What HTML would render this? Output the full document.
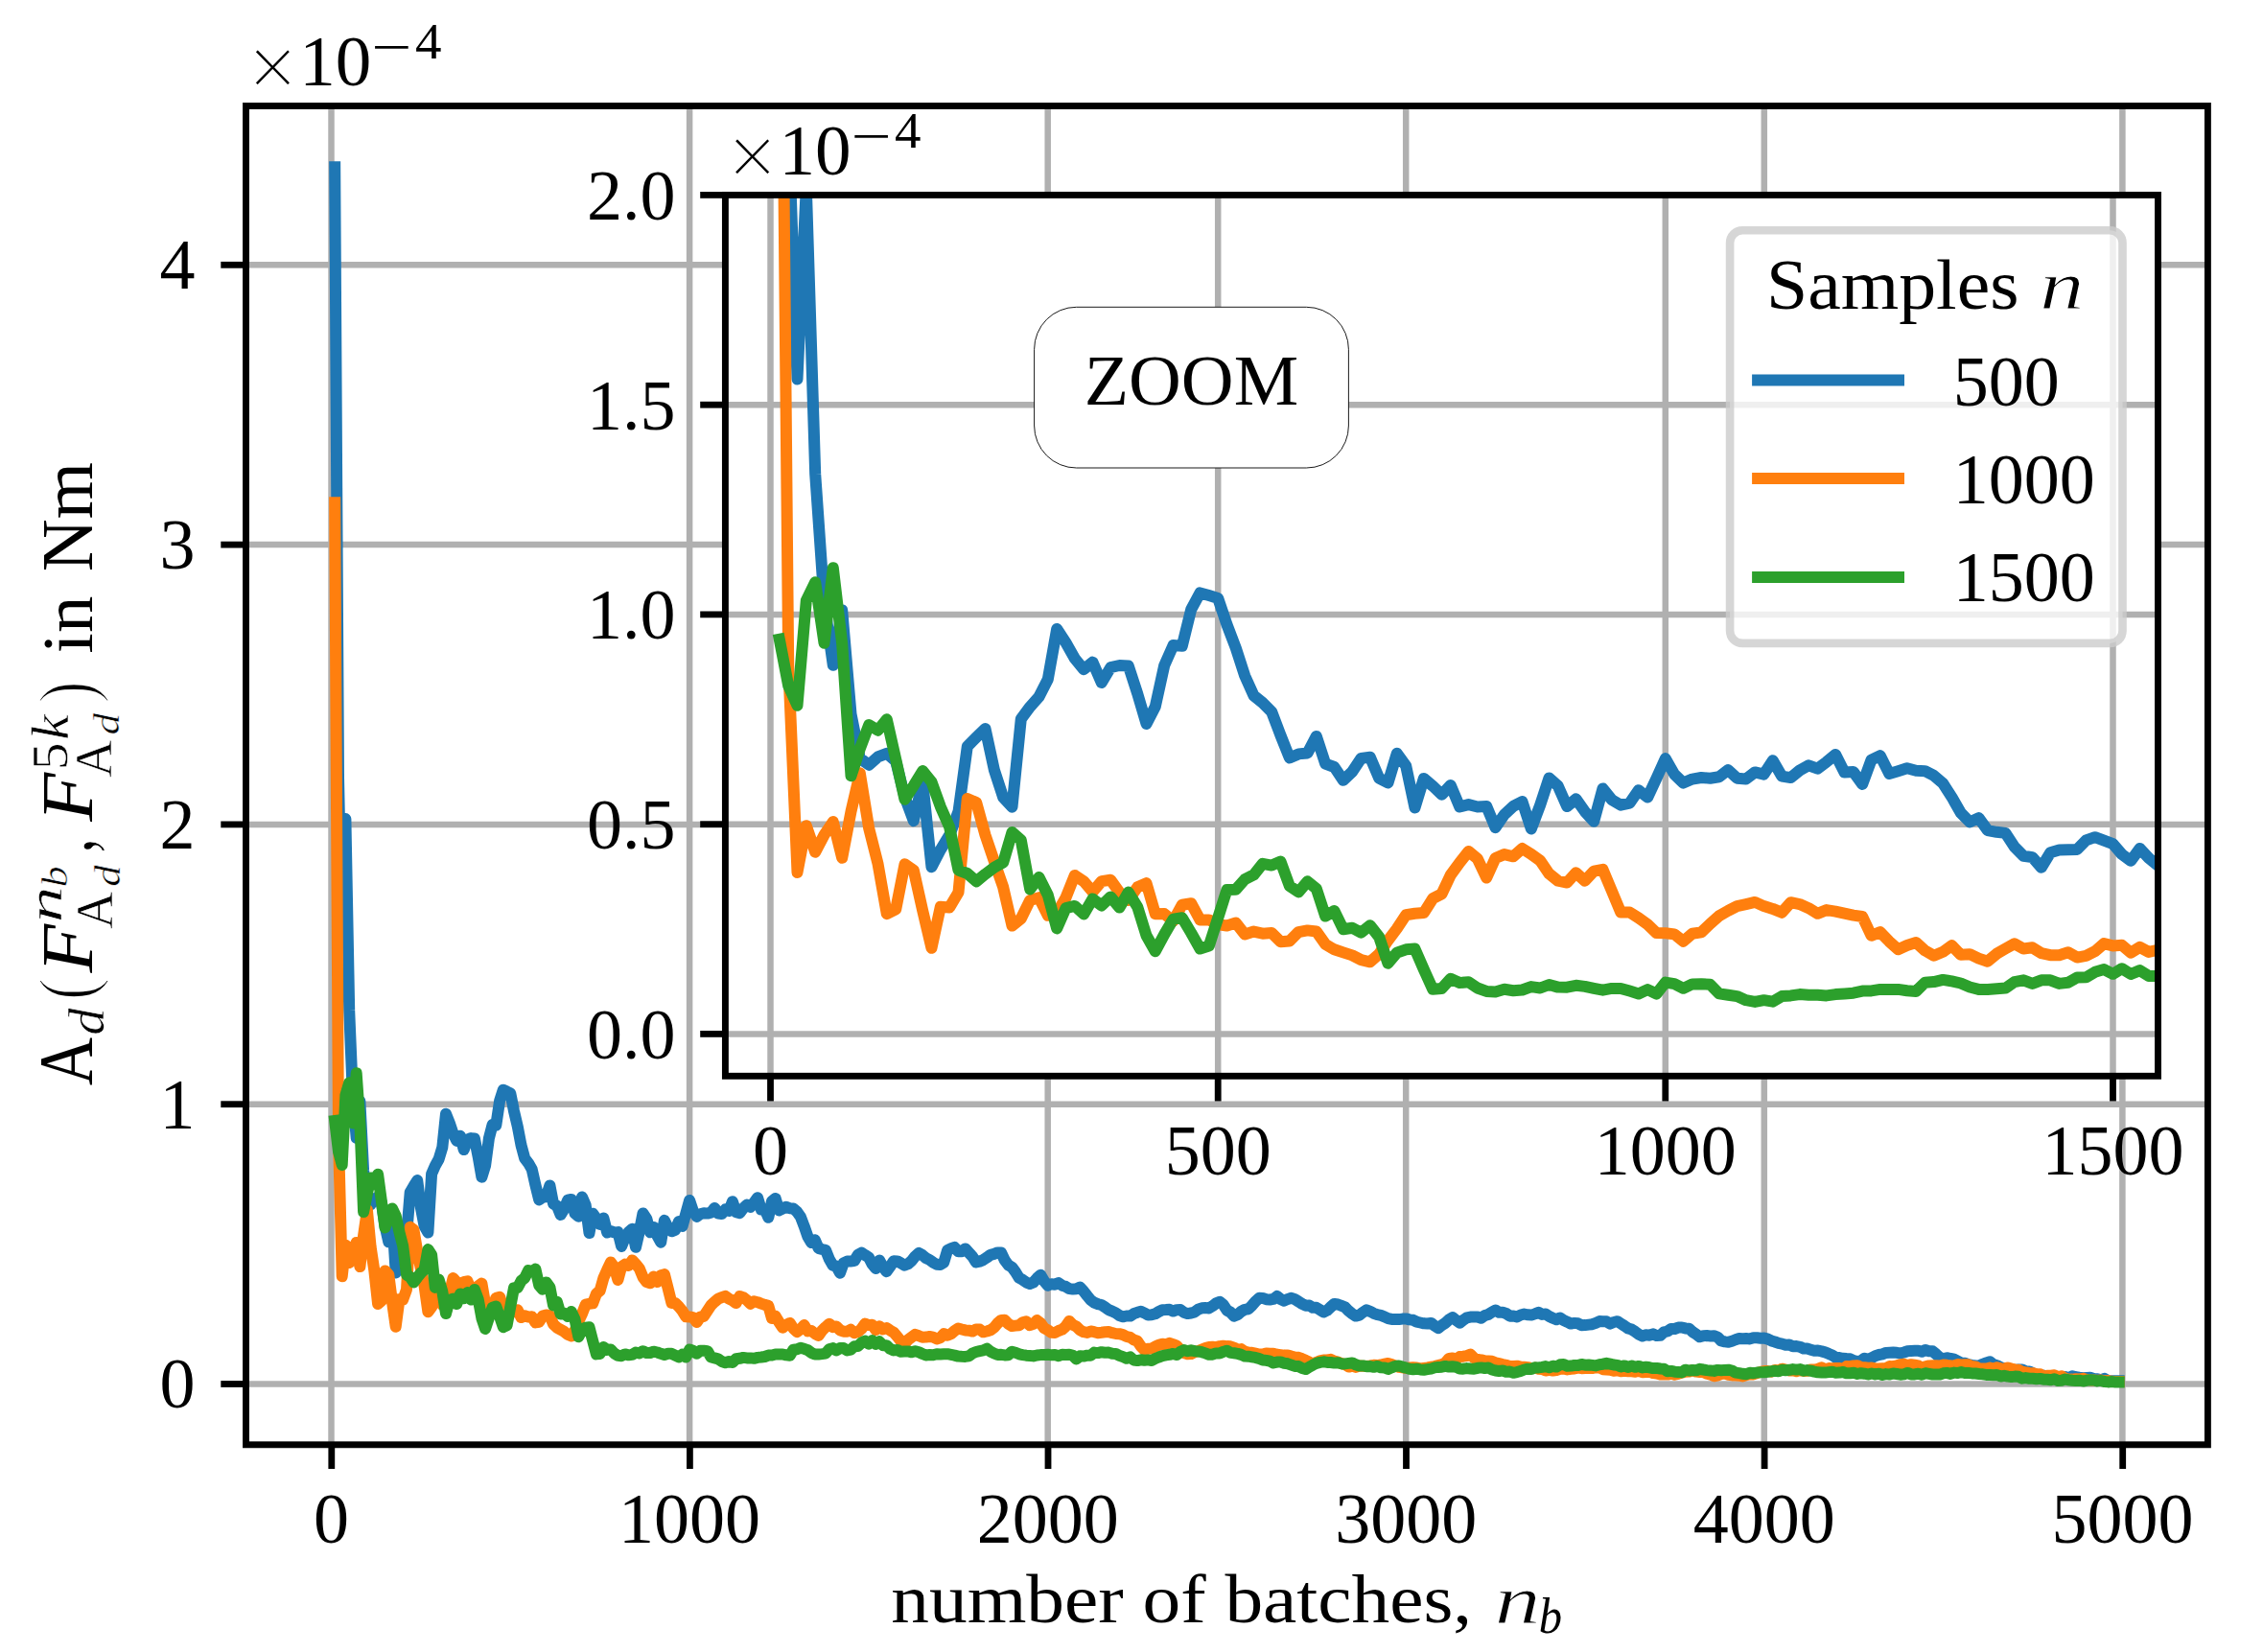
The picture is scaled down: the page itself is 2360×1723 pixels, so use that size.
<!DOCTYPE html>
<html><head><meta charset="utf-8"><title>plot</title>
<style>html,body{margin:0;padding:0;background:#fff}svg{display:block}</style></head>
<body>
<svg width="2360" height="1723" viewBox="0 0 2360 1723" font-family='"Liberation Serif", "DejaVu Serif", serif' fill="#000">
<defs>
<clipPath id="cm"><rect x="256.5" y="110.5" width="2045.9" height="1396.3"/></clipPath>
<clipPath id="ci"><rect x="756.4" y="203.4" width="1494.1" height="918.9"/></clipPath>
</defs>
<rect x="0" y="0" width="2360" height="1723" fill="#fff"/>
<g stroke="#b0b0b0" stroke-width="6.5">
<line x1="345.5" y1="110.5" x2="345.5" y2="1506.8"/>
<line x1="719.1" y1="110.5" x2="719.1" y2="1506.8"/>
<line x1="1092.7" y1="110.5" x2="1092.7" y2="1506.8"/>
<line x1="1466.2" y1="110.5" x2="1466.2" y2="1506.8"/>
<line x1="1839.8" y1="110.5" x2="1839.8" y2="1506.8"/>
<line x1="2213.4" y1="110.5" x2="2213.4" y2="1506.8"/>
<line x1="256.5" y1="1443.5" x2="2302.4" y2="1443.5"/>
<line x1="256.5" y1="1151.7" x2="2302.4" y2="1151.7"/>
<line x1="256.5" y1="859.9" x2="2302.4" y2="859.9"/>
<line x1="256.5" y1="568.1" x2="2302.4" y2="568.1"/>
<line x1="256.5" y1="276.3" x2="2302.4" y2="276.3"/>
</g>
<polyline points="349.2,174.2 353.0,810.3 356.7,988.0 360.4,854.1 364.2,1053.9 367.9,1142.9 371.7,1187.0 375.4,1148.8 379.1,1220.9 382.9,1251.8 386.6,1256.3 390.3,1250.7 394.1,1248.4 397.8,1253.8 401.5,1278.6 405.3,1295.3 409.0,1268.4 412.7,1327.4 416.5,1315.4 420.2,1305.2 424.0,1288.8 427.7,1243.5 431.4,1237.2 435.2,1231.1 438.9,1259.7 442.6,1278.9 446.4,1285.6 450.1,1224.4 453.8,1215.9 457.6,1209.0 461.3,1196.8 465.0,1161.7 468.8,1171.3 472.5,1182.2 476.3,1189.9 480.0,1184.8 483.7,1199.1 487.5,1188.6 491.2,1187.1 494.9,1187.5 498.7,1206.7 502.4,1227.7 506.1,1215.8 509.9,1187.2 513.6,1173.1 517.3,1173.6 521.1,1148.1 524.8,1136.7 528.6,1138.5 532.3,1140.4 536.0,1158.8 539.8,1175.0 543.5,1194.4 547.2,1208.1 551.0,1213.1 554.7,1219.5 558.4,1235.8 562.2,1251.4 565.9,1248.8 569.6,1248.1 573.4,1236.4 577.1,1255.6 580.9,1257.8 584.6,1267.0 588.3,1261.0 592.1,1251.7 595.8,1250.9 599.5,1265.5 603.3,1268.8 607.0,1248.4 610.7,1256.9 614.5,1286.1 618.2,1265.7 621.9,1271.0 625.7,1277.0 629.4,1270.5 633.2,1285.5 636.9,1283.9 640.6,1285.5 644.4,1285.1 648.1,1299.9 651.8,1291.0 655.6,1285.1 659.3,1281.8 663.0,1300.8 666.8,1284.3 670.5,1265.4 674.3,1271.0 678.0,1285.2 681.7,1280.0 685.5,1288.8 689.2,1295.7 692.9,1272.8 696.7,1280.6 700.4,1284.3 704.1,1282.9 707.9,1274.0 711.6,1278.9 715.3,1265.6 719.1,1251.9 722.8,1262.9 726.6,1268.9 730.3,1266.2 734.0,1265.2 737.8,1265.6 741.5,1264.7 745.2,1259.9 749.0,1265.6 752.7,1266.1 756.4,1261.4 760.2,1262.9 763.9,1253.2 767.6,1264.2 771.4,1265.2 775.1,1260.2 778.9,1256.7 782.6,1258.9 786.3,1254.3 790.1,1249.2 793.8,1261.5 797.5,1261.1 801.3,1269.8 805.0,1252.9 808.7,1249.9 812.5,1262.4 816.2,1260.6 819.9,1258.7 823.7,1260.3 827.4,1260.6 831.2,1263.8 834.9,1269.2 838.6,1278.8 842.4,1289.7 846.1,1296.1 849.8,1293.2 853.6,1301.9 857.3,1303.0 861.0,1303.8 864.8,1313.3 868.5,1319.6 872.2,1320.6 876.0,1327.7 879.7,1317.4 883.5,1315.5 887.2,1315.4 890.9,1315.1 894.7,1308.7 898.4,1306.6 902.1,1309.0 905.9,1311.3 909.6,1318.5 913.3,1323.0 917.1,1314.5 920.8,1321.1 924.5,1326.2 928.3,1321.0 932.0,1315.2 935.8,1315.4 939.5,1317.4 943.2,1319.7 947.0,1318.2 950.7,1314.9 954.4,1310.3 958.2,1306.8 961.9,1309.0 965.6,1312.1 969.4,1314.0 973.1,1316.7 976.9,1318.7 980.6,1319.0 984.3,1316.6 988.1,1303.9 991.8,1302.2 995.5,1300.9 999.3,1305.2 1003.0,1305.2 1006.7,1302.4 1010.5,1306.6 1014.2,1310.6 1017.9,1316.5 1021.7,1315.6 1025.4,1314.1 1029.2,1311.6 1032.9,1308.8 1036.6,1307.9 1040.4,1306.4 1044.1,1306.5 1047.8,1314.4 1051.6,1319.5 1055.3,1321.6 1059.0,1326.6 1062.8,1332.8 1066.5,1334.8 1070.2,1337.4 1074.0,1339.1 1077.7,1337.5 1081.5,1333.1 1085.2,1329.8 1088.9,1336.1 1092.7,1340.7 1096.4,1339.2 1100.1,1339.7 1103.9,1338.1 1107.6,1340.7 1111.3,1341.8 1115.1,1344.1 1118.8,1344.6 1122.5,1344.2 1126.3,1342.6 1130.0,1346.6 1133.8,1351.5 1137.5,1356.0 1141.2,1358.7 1145.0,1360.2 1148.7,1361.0 1152.4,1363.4 1156.2,1366.1 1159.9,1367.6 1163.6,1369.4 1167.4,1372.0 1171.1,1373.3 1174.8,1372.5 1178.6,1372.6 1182.3,1370.2 1186.1,1368.8 1189.8,1367.8 1193.5,1369.4 1197.3,1371.6 1201.0,1371.3 1204.7,1370.3 1208.5,1368.0 1212.2,1366.3 1215.9,1366.1 1219.7,1365.8 1223.4,1367.6 1227.1,1366.2 1230.9,1366.0 1234.6,1368.8 1238.4,1370.1 1242.1,1369.5 1245.8,1368.4 1249.6,1365.7 1253.3,1364.3 1257.0,1364.1 1260.8,1364.4 1264.5,1362.2 1268.2,1359.4 1272.0,1357.8 1275.7,1360.7 1279.5,1366.6 1283.2,1368.6 1286.9,1372.6 1290.7,1371.1 1294.4,1367.9 1298.1,1365.9 1301.9,1365.3 1305.6,1361.7 1309.3,1357.3 1313.1,1353.8 1316.8,1353.9 1320.5,1355.2 1324.3,1355.5 1328.0,1354.9 1331.8,1352.0 1335.5,1355.0 1339.2,1356.7 1343.0,1354.9 1346.7,1353.8 1350.4,1355.2 1354.2,1357.5 1357.9,1359.9 1361.6,1361.7 1365.4,1361.5 1369.1,1363.8 1372.8,1363.8 1376.6,1366.1 1380.3,1368.5 1384.1,1366.7 1387.8,1363.1 1391.5,1359.9 1395.3,1360.5 1399.0,1361.9 1402.7,1363.3 1406.5,1367.3 1410.2,1370.2 1413.9,1372.6 1417.7,1371.7 1421.4,1368.7 1425.1,1366.3 1428.9,1367.8 1432.6,1369.8 1436.4,1371.2 1440.1,1371.9 1443.8,1373.3 1447.6,1375.1 1451.3,1375.9 1455.0,1375.9 1458.8,1376.1 1462.5,1375.6 1466.2,1375.4 1470.0,1376.4 1473.7,1376.8 1477.4,1378.7 1481.2,1379.5 1484.9,1380.3 1488.7,1380.5 1492.4,1379.9 1496.1,1382.7 1499.9,1385.1 1503.6,1382.3 1507.3,1379.9 1511.1,1376.3 1514.8,1374.0 1518.5,1376.9 1522.3,1379.7 1526.0,1376.8 1529.7,1374.4 1533.5,1373.6 1537.2,1373.5 1541.0,1373.5 1544.7,1374.8 1548.4,1372.0 1552.2,1370.9 1555.9,1368.5 1559.6,1366.5 1563.4,1368.8 1567.1,1368.8 1570.8,1370.0 1574.6,1372.7 1578.3,1372.5 1582.0,1373.5 1585.8,1371.5 1589.5,1370.5 1593.3,1371.3 1597.0,1371.6 1600.7,1370.4 1604.5,1368.9 1608.2,1370.9 1611.9,1370.5 1615.7,1373.0 1619.4,1374.7 1623.1,1376.3 1626.9,1374.5 1630.6,1377.0 1634.4,1378.7 1638.1,1380.6 1641.8,1379.9 1645.6,1380.3 1649.3,1382.2 1653.0,1382.1 1656.8,1381.6 1660.5,1381.2 1664.2,1379.9 1668.0,1378.1 1671.7,1378.2 1675.4,1378.3 1679.2,1380.6 1682.9,1379.0 1686.7,1378.2 1690.4,1380.5 1694.1,1382.9 1697.9,1385.5 1701.6,1386.6 1705.3,1388.9 1709.1,1391.8 1712.8,1393.4 1716.5,1392.3 1720.3,1392.7 1724.0,1391.3 1727.7,1393.1 1731.5,1392.8 1735.2,1389.3 1739.0,1388.5 1742.7,1386.0 1746.4,1386.0 1750.2,1384.6 1753.9,1384.5 1757.6,1385.4 1761.4,1385.7 1765.1,1389.1 1768.8,1391.5 1772.6,1394.3 1776.3,1393.2 1780.0,1393.1 1783.8,1393.4 1787.5,1393.3 1791.3,1394.6 1795.0,1398.5 1798.7,1399.4 1802.5,1399.8 1806.2,1398.7 1809.9,1397.2 1813.7,1396.0 1817.4,1396.2 1821.1,1396.1 1824.9,1396.4 1828.6,1395.2 1832.3,1395.2 1836.1,1395.7 1839.8,1395.6 1843.6,1396.6 1847.3,1398.4 1851.0,1399.5 1854.8,1400.9 1858.5,1401.6 1862.2,1402.8 1866.0,1402.6 1869.7,1404.2 1873.4,1404.0 1877.2,1404.8 1880.9,1406.5 1884.6,1406.6 1888.4,1407.7 1892.1,1408.8 1895.9,1408.6 1899.6,1409.4 1903.3,1410.4 1907.1,1411.9 1910.8,1413.5 1914.5,1415.9 1918.3,1416.1 1922.0,1416.8 1925.7,1417.1 1929.5,1417.3 1933.2,1419.1 1937.0,1420.1 1940.7,1419.3 1944.4,1416.7 1948.2,1417.9 1951.9,1416.2 1955.6,1414.2 1959.4,1413.0 1963.1,1412.3 1966.8,1410.9 1970.6,1410.7 1974.3,1410.6 1978.0,1410.8 1981.8,1411.5 1985.5,1410.5 1989.3,1409.3 1993.0,1408.9 1996.7,1408.8 2000.5,1408.7 2004.2,1409.8 2007.9,1408.0 2011.7,1409.2 2015.4,1409.2 2019.1,1412.4 2022.9,1415.9 2026.6,1417.2 2030.3,1416.3 2034.1,1416.9 2037.8,1417.7 2041.6,1419.6 2045.3,1421.5 2049.0,1421.8 2052.8,1423.1 2056.5,1423.8 2060.2,1424.4 2064.0,1424.5 2067.7,1422.8 2071.4,1421.4 2075.2,1420.2 2078.9,1423.1 2082.6,1424.2 2086.4,1426.1 2090.1,1427.3 2093.9,1427.0 2097.6,1429.0 2101.3,1428.9 2105.1,1428.4 2108.8,1428.5 2112.5,1430.2 2116.3,1430.4 2120.0,1432.2 2123.7,1433.7 2127.5,1434.2 2131.2,1434.6 2134.9,1435.3 2138.7,1435.3 2142.4,1435.8 2146.2,1436.7 2149.9,1436.5 2153.6,1436.0 2157.4,1437.2 2161.1,1435.2 2164.8,1436.3 2168.6,1436.8 2172.3,1437.2 2176.0,1436.9 2179.8,1436.8 2183.5,1437.9 2187.2,1438.2 2191.0,1439.3 2194.7,1437.9 2198.5,1440.1 2202.2,1440.3 2205.9,1440.3 2209.7,1440.3" fill="none" stroke="#1f77b4" stroke-width="12" stroke-linejoin="round" stroke-linecap="square" clip-path="url(#cm)"/>
<polyline points="349.2,524.3 353.0,1187.3 356.7,1331.2 360.4,1298.6 364.2,1317.0 367.9,1305.1 371.7,1295.9 375.4,1321.1 379.1,1288.7 382.9,1262.0 386.6,1300.5 390.3,1325.0 394.1,1360.0 397.8,1356.8 401.5,1325.4 405.3,1329.6 409.0,1357.7 412.7,1383.7 416.5,1355.0 420.2,1355.5 424.0,1345.0 427.7,1279.8 431.4,1282.5 435.2,1305.1 438.9,1323.3 442.6,1341.4 446.4,1368.3 450.1,1363.2 453.8,1350.5 457.6,1348.7 461.3,1361.0 465.0,1359.5 468.8,1348.7 472.5,1333.1 476.3,1337.3 480.0,1344.6 483.7,1337.2 487.5,1336.3 491.2,1345.0 494.9,1350.5 498.7,1341.4 502.4,1338.6 506.1,1360.0 509.9,1359.9 513.6,1365.0 517.3,1353.7 521.1,1352.7 524.8,1364.1 528.6,1364.1 532.3,1367.3 536.0,1368.2 539.8,1366.3 543.5,1374.1 547.2,1372.3 551.0,1373.6 554.7,1373.2 558.4,1379.4 562.2,1378.8 565.9,1372.6 569.6,1371.5 573.4,1372.2 577.1,1381.1 580.9,1384.7 584.6,1386.8 588.3,1388.8 592.1,1392.0 595.8,1393.4 599.5,1387.9 603.3,1378.4 607.0,1370.2 610.7,1360.7 614.5,1359.8 618.2,1359.3 621.9,1349.3 625.7,1346.1 629.4,1332.9 633.2,1324.3 636.9,1316.5 640.6,1321.6 644.4,1334.9 648.1,1321.1 651.8,1318.6 655.6,1320.0 659.3,1314.5 663.0,1318.4 666.8,1323.0 670.5,1332.0 674.3,1337.0 678.0,1338.2 681.7,1331.4 685.5,1337.0 689.2,1330.3 692.9,1329.1 696.7,1343.9 700.4,1358.9 704.1,1358.9 707.9,1362.8 711.6,1367.3 715.3,1373.2 719.1,1373.4 722.8,1374.1 726.6,1379.0 730.3,1373.7 734.0,1372.8 737.8,1366.9 741.5,1361.4 745.2,1357.8 749.0,1354.6 752.7,1353.2 756.4,1351.8 760.2,1354.6 763.9,1356.4 767.6,1359.1 771.4,1352.0 775.1,1353.2 778.9,1356.0 782.6,1359.7 786.3,1357.2 790.1,1358.2 793.8,1359.6 797.5,1360.9 801.3,1361.9 805.0,1375.0 808.7,1372.7 812.5,1379.1 816.2,1384.7 819.9,1381.8 823.7,1379.9 827.4,1385.5 831.2,1389.0 834.9,1386.4 838.6,1382.0 842.4,1388.4 846.1,1388.0 849.8,1390.9 853.6,1393.0 857.3,1387.8 861.0,1384.1 864.8,1380.7 868.5,1384.2 872.2,1383.4 876.0,1387.3 879.7,1388.7 883.5,1388.7 887.2,1386.7 890.9,1390.3 894.7,1389.1 898.4,1386.0 902.1,1380.6 905.9,1382.1 909.6,1381.7 913.3,1387.0 917.1,1383.2 920.8,1386.5 924.5,1385.1 928.3,1387.6 932.0,1389.7 935.8,1394.1 939.5,1398.8 943.2,1401.8 947.0,1397.3 950.7,1394.6 954.4,1391.9 958.2,1393.2 961.9,1394.7 965.6,1394.6 969.4,1394.0 973.1,1394.6 976.9,1396.4 980.6,1395.3 984.3,1391.1 988.1,1392.8 991.8,1391.3 995.5,1388.0 999.3,1385.5 1003.0,1386.5 1006.7,1387.4 1010.5,1387.7 1014.2,1388.6 1017.9,1386.4 1021.7,1386.6 1025.4,1389.3 1029.2,1388.5 1032.9,1387.3 1036.6,1384.7 1040.4,1380.1 1044.1,1376.9 1047.8,1376.8 1051.6,1380.8 1055.3,1383.0 1059.0,1382.6 1062.8,1382.2 1066.5,1379.3 1070.2,1378.3 1074.0,1382.2 1077.7,1380.9 1081.5,1377.1 1085.2,1380.0 1088.9,1385.2 1092.7,1387.2 1096.4,1389.8 1100.1,1390.0 1103.9,1388.0 1107.6,1386.7 1111.3,1383.4 1115.1,1378.0 1118.8,1381.8 1122.5,1383.4 1126.3,1387.2 1130.0,1389.2 1133.8,1389.9 1137.5,1388.5 1141.2,1389.2 1145.0,1390.2 1148.7,1389.8 1152.4,1389.3 1156.2,1389.1 1159.9,1390.2 1163.6,1391.0 1167.4,1391.2 1171.1,1392.1 1174.8,1394.0 1178.6,1394.9 1182.3,1397.4 1186.1,1398.7 1189.8,1404.3 1193.5,1408.0 1197.3,1406.8 1201.0,1406.5 1204.7,1404.5 1208.5,1402.8 1212.2,1401.7 1215.9,1402.3 1219.7,1400.8 1223.4,1402.1 1227.1,1403.6 1230.9,1407.8 1234.6,1411.1 1238.4,1412.3 1242.1,1412.1 1245.8,1410.2 1249.6,1409.0 1253.3,1407.5 1257.0,1406.0 1260.8,1404.9 1264.5,1404.7 1268.2,1405.1 1272.0,1404.2 1275.7,1403.7 1279.5,1404.1 1283.2,1404.3 1286.9,1405.6 1290.7,1407.6 1294.4,1407.1 1298.1,1409.7 1301.9,1410.6 1305.6,1410.8 1309.3,1411.6 1313.1,1412.5 1316.8,1412.5 1320.5,1411.4 1324.3,1411.7 1328.0,1411.7 1331.8,1412.7 1335.5,1413.1 1339.2,1413.6 1343.0,1413.5 1346.7,1414.6 1350.4,1415.5 1354.2,1415.8 1357.9,1417.2 1361.6,1418.8 1365.4,1420.7 1369.1,1422.2 1372.8,1421.0 1376.6,1419.4 1380.3,1418.5 1384.1,1418.5 1387.8,1417.8 1391.5,1419.6 1395.3,1420.6 1399.0,1422.2 1402.7,1423.1 1406.5,1425.6 1410.2,1424.6 1413.9,1425.9 1417.7,1424.6 1421.4,1424.7 1425.1,1425.0 1428.9,1424.5 1432.6,1423.8 1436.4,1424.1 1440.1,1423.5 1443.8,1422.7 1447.6,1422.0 1451.3,1423.0 1455.0,1424.5 1458.8,1425.8 1462.5,1426.3 1466.2,1426.9 1470.0,1426.6 1473.7,1426.3 1477.4,1426.4 1481.2,1427.5 1484.9,1426.9 1488.7,1426.4 1492.4,1425.7 1496.1,1425.1 1499.9,1424.0 1503.6,1423.1 1507.3,1421.4 1511.1,1416.9 1514.8,1416.4 1518.5,1417.8 1522.3,1415.0 1526.0,1414.7 1529.7,1414.1 1533.5,1412.6 1537.2,1416.4 1541.0,1417.9 1544.7,1418.4 1548.4,1419.4 1552.2,1419.5 1555.9,1419.8 1559.6,1421.3 1563.4,1422.1 1567.1,1423.0 1570.8,1423.8 1574.6,1424.9 1578.3,1424.9 1582.0,1424.7 1585.8,1425.6 1589.5,1425.8 1593.3,1426.2 1597.0,1427.1 1600.7,1426.6 1604.5,1427.7 1608.2,1428.0 1611.9,1429.5 1615.7,1428.9 1619.4,1429.6 1623.1,1429.1 1626.9,1427.9 1630.6,1427.5 1634.4,1428.4 1638.1,1427.8 1641.8,1427.5 1645.6,1426.6 1649.3,1427.2 1653.0,1426.9 1656.8,1427.0 1660.5,1427.0 1664.2,1426.4 1668.0,1426.4 1671.7,1428.2 1675.4,1428.5 1679.2,1428.7 1682.9,1429.7 1686.7,1429.3 1690.4,1430.3 1694.1,1429.8 1697.9,1430.2 1701.6,1430.3 1705.3,1430.7 1709.1,1429.7 1712.8,1431.2 1716.5,1430.9 1720.3,1430.7 1724.0,1432.1 1727.7,1432.5 1731.5,1433.6 1735.2,1433.5 1739.0,1433.6 1742.7,1432.6 1746.4,1433.7 1750.2,1432.8 1753.9,1431.6 1757.6,1430.7 1761.4,1430.6 1765.1,1429.1 1768.8,1430.6 1772.6,1430.9 1776.3,1431.1 1780.0,1432.7 1783.8,1433.6 1787.5,1435.2 1791.3,1434.6 1795.0,1433.0 1798.7,1432.6 1802.5,1433.9 1806.2,1434.4 1809.9,1434.5 1813.7,1434.7 1817.4,1435.5 1821.1,1434.1 1824.9,1433.4 1828.6,1433.4 1832.3,1432.1 1836.1,1430.9 1839.8,1430.1 1843.6,1430.1 1847.3,1430.7 1851.0,1428.9 1854.8,1429.6 1858.5,1427.7 1862.2,1428.5 1866.0,1429.5 1869.7,1429.2 1873.4,1430.2 1877.2,1429.1 1880.9,1429.9 1884.6,1429.8 1888.4,1428.4 1892.1,1428.6 1895.9,1427.8 1899.6,1426.3 1903.3,1428.3 1907.1,1427.1 1910.8,1427.2 1914.5,1427.0 1918.3,1426.9 1922.0,1428.1 1925.7,1425.1 1929.5,1425.2 1933.2,1424.4 1937.0,1424.2 1940.7,1425.9 1944.4,1426.2 1948.2,1426.7 1951.9,1426.6 1955.6,1427.4 1959.4,1427.5 1963.1,1427.2 1966.8,1427.0 1970.6,1425.1 1974.3,1425.2 1978.0,1424.3 1981.8,1423.2 1985.5,1422.8 1989.3,1423.9 1993.0,1423.2 1996.7,1423.7 2000.5,1424.4 2004.2,1427.0 2007.9,1425.3 2011.7,1424.4 2015.4,1424.3 2019.1,1424.3 2022.9,1424.5 2026.6,1423.5 2030.3,1423.8 2034.1,1424.5 2037.8,1424.5 2041.6,1423.1 2045.3,1423.4 2049.0,1423.3 2052.8,1423.3 2056.5,1425.1 2060.2,1425.4 2064.0,1427.3 2067.7,1427.4 2071.4,1427.5 2075.2,1426.6 2078.9,1427.4 2082.6,1426.2 2086.4,1427.3 2090.1,1427.9 2093.9,1426.5 2097.6,1427.6 2101.3,1428.4 2105.1,1428.7 2108.8,1430.7 2112.5,1431.3 2116.3,1432.2 2120.0,1432.2 2123.7,1433.0 2127.5,1433.2 2131.2,1435.7 2134.9,1434.8 2138.7,1434.7 2142.4,1434.3 2146.2,1436.2 2149.9,1435.2 2153.6,1437.8 2157.4,1438.7 2161.1,1438.6 2164.8,1438.2 2168.6,1438.5 2172.3,1437.8 2176.0,1438.9 2179.8,1439.4 2183.5,1439.4 2187.2,1440.0 2191.0,1439.5 2194.7,1440.4 2198.5,1440.0 2202.2,1440.8 2205.9,1441.0 2209.7,1441.0" fill="none" stroke="#ff7f0e" stroke-width="12" stroke-linejoin="round" stroke-linecap="square" clip-path="url(#cm)"/>
<polyline points="349.2,1168.9 353.0,1201.3 356.7,1215.0 360.4,1142.1 364.2,1129.2 367.9,1171.5 371.7,1119.3 375.4,1172.1 379.1,1264.0 382.9,1245.1 386.6,1228.4 390.3,1232.2 394.1,1224.7 397.8,1252.4 401.5,1280.4 405.3,1270.8 409.0,1260.5 412.7,1268.1 416.5,1285.3 420.2,1299.6 424.0,1329.6 427.7,1331.9 431.4,1337.4 435.2,1332.3 438.9,1327.7 442.6,1324.2 446.4,1303.1 450.1,1308.7 453.8,1342.9 457.6,1334.5 461.3,1346.9 465.0,1370.1 468.8,1355.9 472.5,1354.5 476.3,1360.1 480.0,1349.5 483.7,1354.2 487.5,1348.1 491.2,1355.6 494.9,1344.9 498.7,1355.0 502.4,1375.0 506.1,1386.0 509.9,1374.3 513.6,1363.7 517.3,1362.6 521.1,1373.2 524.8,1384.2 528.6,1382.3 532.3,1362.7 536.0,1343.2 539.8,1343.0 543.5,1335.9 547.2,1332.8 551.0,1325.1 554.7,1326.2 558.4,1323.6 562.2,1340.5 565.9,1344.8 569.6,1337.4 573.4,1342.5 577.1,1361.6 580.9,1357.8 584.6,1370.6 588.3,1369.6 592.1,1373.0 595.8,1368.0 599.5,1376.1 603.3,1394.3 607.0,1387.0 610.7,1384.7 614.5,1384.3 618.2,1398.5 621.9,1412.4 625.7,1412.0 629.4,1405.1 633.2,1407.9 636.9,1407.4 640.6,1411.5 644.4,1413.8 648.1,1414.2 651.8,1412.4 655.6,1413.3 659.3,1412.9 663.0,1410.6 666.8,1411.5 670.5,1409.2 674.3,1411.0 678.0,1411.0 681.7,1409.7 685.5,1410.5 689.2,1411.8 692.9,1413.0 696.7,1411.8 700.4,1411.8 704.1,1413.6 707.9,1415.5 711.6,1412.6 715.3,1415.5 719.1,1407.6 722.8,1408.7 726.6,1411.7 730.3,1408.8 734.0,1408.7 737.8,1409.1 741.5,1415.5 745.2,1416.4 749.0,1417.3 752.7,1420.0 756.4,1421.2 760.2,1420.0 763.9,1421.0 767.6,1417.3 771.4,1416.8 775.1,1415.9 778.9,1416.4 782.6,1416.4 786.3,1416.8 790.1,1415.9 793.8,1415.5 797.5,1415.0 801.3,1413.6 805.0,1413.5 808.7,1412.5 812.5,1412.5 816.2,1412.5 819.9,1413.4 823.7,1413.8 827.4,1407.7 831.2,1407.3 834.9,1405.8 838.6,1406.8 842.4,1408.2 846.1,1410.9 849.8,1412.5 853.6,1412.5 857.3,1412.1 861.0,1411.6 864.8,1407.3 868.5,1406.1 872.2,1408.5 876.0,1406.1 879.7,1406.1 883.5,1408.5 887.2,1407.7 890.9,1404.3 894.7,1404.1 898.4,1400.4 902.1,1398.6 905.9,1401.7 909.6,1398.0 913.3,1401.9 917.1,1399.3 920.8,1403.2 924.5,1403.2 928.3,1406.8 932.0,1408.4 935.8,1408.0 939.5,1409.8 943.2,1409.6 947.0,1409.4 950.7,1410.3 954.4,1409.2 958.2,1410.3 961.9,1412.0 965.6,1413.4 969.4,1413.1 973.1,1413.3 976.9,1412.3 980.6,1412.5 984.3,1412.3 988.1,1412.2 991.8,1412.9 995.5,1413.6 999.3,1414.6 1003.0,1414.8 1006.7,1414.9 1010.5,1414.4 1014.2,1411.5 1017.9,1410.0 1021.7,1409.1 1025.4,1408.4 1029.2,1406.6 1032.9,1409.6 1036.6,1411.5 1040.4,1413.0 1044.1,1412.8 1047.8,1413.4 1051.6,1413.2 1055.3,1409.7 1059.0,1410.7 1062.8,1412.3 1066.5,1413.1 1070.2,1413.7 1074.0,1414.0 1077.7,1414.4 1081.5,1413.5 1085.2,1413.1 1088.9,1412.9 1092.7,1412.7 1096.4,1413.3 1100.1,1413.1 1103.9,1414.2 1107.6,1412.7 1111.3,1413.0 1115.1,1412.7 1118.8,1413.8 1122.5,1417.5 1126.3,1414.3 1130.0,1414.6 1133.8,1413.7 1137.5,1413.7 1141.2,1410.6 1145.0,1411.1 1148.7,1410.2 1152.4,1410.7 1156.2,1410.6 1159.9,1411.8 1163.6,1412.0 1167.4,1413.8 1171.1,1415.1 1174.8,1416.8 1178.6,1415.4 1182.3,1418.5 1186.1,1419.1 1189.8,1418.3 1193.5,1418.8 1197.3,1418.4 1201.0,1419.0 1204.7,1417.0 1208.5,1415.5 1212.2,1414.2 1215.9,1413.4 1219.7,1412.8 1223.4,1411.9 1227.1,1413.0 1230.9,1409.9 1234.6,1408.1 1238.4,1409.2 1242.1,1408.3 1245.8,1409.2 1249.6,1409.5 1253.3,1410.2 1257.0,1411.4 1260.8,1412.8 1264.5,1412.7 1268.2,1411.4 1272.0,1411.4 1275.7,1409.9 1279.5,1408.7 1283.2,1410.9 1286.9,1411.3 1290.7,1411.9 1294.4,1412.9 1298.1,1414.6 1301.9,1414.7 1305.6,1415.3 1309.3,1415.9 1313.1,1417.0 1316.8,1418.5 1320.5,1418.9 1324.3,1419.7 1328.0,1421.5 1331.8,1420.6 1335.5,1420.5 1339.2,1421.7 1343.0,1422.3 1346.7,1423.6 1350.4,1424.9 1354.2,1425.1 1357.9,1427.0 1361.6,1428.1 1365.4,1425.7 1369.1,1423.7 1372.8,1421.9 1376.6,1420.9 1380.3,1420.3 1384.1,1420.9 1387.8,1421.0 1391.5,1421.6 1395.3,1421.2 1399.0,1422.4 1402.7,1422.4 1406.5,1421.9 1410.2,1421.4 1413.9,1423.3 1417.7,1424.6 1421.4,1424.4 1425.1,1425.2 1428.9,1425.1 1432.6,1425.8 1436.4,1424.9 1440.1,1426.3 1443.8,1426.4 1447.6,1427.9 1451.3,1426.3 1455.0,1424.9 1458.8,1424.5 1462.5,1425.6 1466.2,1426.6 1470.0,1427.8 1473.7,1428.3 1477.4,1427.8 1481.2,1428.4 1484.9,1428.7 1488.7,1428.1 1492.4,1427.6 1496.1,1426.4 1499.9,1425.9 1503.6,1425.7 1507.3,1424.9 1511.1,1425.6 1514.8,1425.3 1518.5,1425.7 1522.3,1427.4 1526.0,1427.7 1529.7,1427.1 1533.5,1427.5 1537.2,1427.7 1541.0,1426.8 1544.7,1426.4 1548.4,1427.0 1552.2,1426.5 1555.9,1428.5 1559.6,1429.5 1563.4,1430.0 1567.1,1429.4 1570.8,1430.8 1574.6,1430.6 1578.3,1431.8 1582.0,1431.1 1585.8,1430.0 1589.5,1428.5 1593.3,1427.7 1597.0,1427.9 1600.7,1426.3 1604.5,1426.4 1608.2,1425.8 1611.9,1425.1 1615.7,1426.3 1619.4,1424.7 1623.1,1425.6 1626.9,1423.3 1630.6,1423.1 1634.4,1424.8 1638.1,1424.6 1641.8,1424.0 1645.6,1424.1 1649.3,1423.0 1653.0,1423.7 1656.8,1423.5 1660.5,1423.9 1664.2,1424.4 1668.0,1423.2 1671.7,1422.7 1675.4,1421.8 1679.2,1422.6 1682.9,1423.5 1686.7,1423.9 1690.4,1425.4 1694.1,1424.4 1697.9,1426.0 1701.6,1424.5 1705.3,1425.8 1709.1,1424.9 1712.8,1426.4 1716.5,1425.7 1720.3,1426.3 1724.0,1427.1 1727.7,1426.9 1731.5,1427.5 1735.2,1427.7 1739.0,1430.3 1742.7,1429.9 1746.4,1430.7 1750.2,1430.9 1753.9,1431.4 1757.6,1428.7 1761.4,1429.5 1765.1,1429.0 1768.8,1429.3 1772.6,1427.8 1776.3,1428.5 1780.0,1429.1 1783.8,1429.5 1787.5,1429.9 1791.3,1428.9 1795.0,1429.3 1798.7,1428.9 1802.5,1428.7 1806.2,1429.5 1809.9,1431.6 1813.7,1432.1 1817.4,1432.8 1821.1,1433.3 1824.9,1431.7 1828.6,1432.2 1832.3,1431.6 1836.1,1431.3 1839.8,1431.2 1843.6,1430.7 1847.3,1430.3 1851.0,1429.8 1854.8,1430.3 1858.5,1428.7 1862.2,1429.2 1866.0,1428.8 1869.7,1428.1 1873.4,1428.6 1877.2,1428.1 1880.9,1429.7 1884.6,1429.1 1888.4,1429.7 1892.1,1430.6 1895.9,1431.3 1899.6,1431.5 1903.3,1431.6 1907.1,1431.1 1910.8,1430.7 1914.5,1431.7 1918.3,1431.6 1922.0,1431.0 1925.7,1432.3 1929.5,1432.2 1933.2,1431.8 1937.0,1432.9 1940.7,1432.2 1944.4,1432.7 1948.2,1433.5 1951.9,1432.5 1955.6,1433.4 1959.4,1432.8 1963.1,1434.0 1966.8,1433.1 1970.6,1433.5 1974.3,1432.5 1978.0,1433.0 1981.8,1433.7 1985.5,1433.3 1989.3,1431.9 1993.0,1433.4 1996.7,1433.4 2000.5,1432.7 2004.2,1433.7 2007.9,1432.3 2011.7,1432.9 2015.4,1433.5 2019.1,1433.6 2022.9,1433.6 2026.6,1432.3 2030.3,1431.9 2034.1,1432.9 2037.8,1431.6 2041.6,1432.0 2045.3,1431.1 2049.0,1432.0 2052.8,1432.0 2056.5,1432.4 2060.2,1432.5 2064.0,1433.0 2067.7,1433.3 2071.4,1433.9 2075.2,1434.0 2078.9,1434.3 2082.6,1434.0 2086.4,1435.5 2090.1,1434.8 2093.9,1435.6 2097.6,1436.1 2101.3,1435.6 2105.1,1435.8 2108.8,1437.7 2112.5,1437.1 2116.3,1437.7 2120.0,1437.8 2123.7,1438.3 2127.5,1437.9 2131.2,1438.7 2134.9,1438.8 2138.7,1439.3 2142.4,1438.2 2146.2,1439.9 2149.9,1439.7 2153.6,1438.6 2157.4,1439.2 2161.1,1439.7 2164.8,1440.0 2168.6,1439.7 2172.3,1440.5 2176.0,1439.8 2179.8,1439.3 2183.5,1439.5 2187.2,1440.4 2191.0,1439.9 2194.7,1441.0 2198.5,1441.4 2202.2,1441.1 2205.9,1441.4 2209.7,1441.4" fill="none" stroke="#2ca02c" stroke-width="12" stroke-linejoin="round" stroke-linecap="square" clip-path="url(#cm)"/>
<g stroke="#000" stroke-width="6.8">
<line x1="345.8" y1="1506.8" x2="345.8" y2="1532.0"/>
<line x1="719.4" y1="1506.8" x2="719.4" y2="1532.0"/>
<line x1="1093.0" y1="1506.8" x2="1093.0" y2="1532.0"/>
<line x1="1466.5" y1="1506.8" x2="1466.5" y2="1532.0"/>
<line x1="1840.1" y1="1506.8" x2="1840.1" y2="1532.0"/>
<line x1="2213.7" y1="1506.8" x2="2213.7" y2="1532.0"/>
<line x1="256.5" y1="1443.5" x2="230.3" y2="1443.5"/>
<line x1="256.5" y1="1151.7" x2="230.3" y2="1151.7"/>
<line x1="256.5" y1="859.9" x2="230.3" y2="859.9"/>
<line x1="256.5" y1="568.1" x2="230.3" y2="568.1"/>
<line x1="256.5" y1="276.3" x2="230.3" y2="276.3"/>
</g>
<rect x="256.5" y="110.5" width="2045.9" height="1396.3" fill="none" stroke="#000" stroke-width="6.9"/>
<rect x="756.4" y="203.4" width="1494.1" height="918.9" fill="#fff"/>
<g stroke="#b0b0b0" stroke-width="6.5">
<line x1="803.5" y1="203.4" x2="803.5" y2="1122.3"/>
<line x1="1270.2" y1="203.4" x2="1270.2" y2="1122.3"/>
<line x1="1736.8" y1="203.4" x2="1736.8" y2="1122.3"/>
<line x1="2203.5" y1="203.4" x2="2203.5" y2="1122.3"/>
<line x1="756.4" y1="1078.4" x2="2250.5" y2="1078.4"/>
<line x1="756.4" y1="859.7" x2="2250.5" y2="859.7"/>
<line x1="756.4" y1="640.9" x2="2250.5" y2="640.9"/>
<line x1="756.4" y1="422.2" x2="2250.5" y2="422.2"/>
</g>
<polyline points="812.8,-824.7 822.2,129.0 831.5,395.5 840.8,194.7 850.2,494.3 859.5,627.8 868.8,693.8 878.2,636.5 887.5,744.6 896.8,791.0 906.2,797.7 915.5,789.4 924.8,785.8 934.2,794.0 943.5,831.2 952.8,856.2 962.2,815.9 971.5,904.3 980.8,886.3 990.2,871.0 999.5,846.5 1008.8,778.5 1018.2,769.1 1027.5,759.9 1036.8,802.8 1046.2,831.7 1055.5,841.7 1064.8,749.8 1074.2,737.2 1083.5,726.8 1092.8,708.5 1102.2,655.9 1111.5,670.3 1120.8,686.7 1130.2,698.2 1139.5,690.6 1148.8,712.0 1158.2,696.2 1167.5,694.0 1176.8,694.5 1186.2,723.4 1195.5,754.9 1204.8,737.0 1214.2,694.1 1223.5,673.1 1232.8,673.7 1242.2,635.6 1251.5,618.4 1260.8,621.1 1270.2,624.0 1279.5,651.5 1288.8,675.8 1298.2,704.9 1307.5,725.5 1316.8,733.0 1326.2,742.5 1335.5,767.0 1344.8,790.4 1354.2,786.4 1363.5,785.5 1372.8,767.9 1382.2,796.6 1391.5,800.0 1400.8,813.8 1410.2,804.8 1419.5,790.9 1428.8,789.7 1438.2,811.6 1447.5,816.5 1456.8,785.8 1466.2,798.7 1475.5,842.4 1484.8,811.9 1494.2,819.8 1503.5,828.8 1512.8,819.0 1522.2,841.5 1531.5,839.1 1540.8,841.5 1550.2,840.9 1559.5,863.2 1568.8,849.7 1578.2,840.9 1587.5,836.0 1596.8,864.5 1606.2,839.7 1615.5,811.4 1624.8,819.8 1634.2,841.1 1643.5,833.3 1652.8,846.4 1662.2,856.8 1671.5,822.4 1680.8,834.1 1690.2,839.7 1699.5,837.6 1708.8,824.2 1718.2,831.6 1727.5,811.7 1736.8,791.1 1746.2,807.6 1755.5,816.6 1764.8,812.6 1774.2,811.0 1783.5,811.7 1792.8,810.3 1802.2,803.1 1811.5,811.7 1820.8,812.5 1830.2,805.4 1839.5,807.6 1848.8,793.2 1858.2,809.6 1867.5,811.1 1876.8,803.5 1886.2,798.3 1895.5,801.6 1904.8,794.7 1914.2,787.0 1923.5,805.5 1932.8,804.9 1942.2,818.0 1951.5,792.6 1960.8,788.1 1970.2,806.9 1979.5,804.2 1988.8,801.3 1998.2,803.8 2007.5,804.2 2016.8,808.9 2026.2,817.1 2035.5,831.4 2044.8,847.8 2054.2,857.4 2063.5,853.1 2072.8,866.1 2082.2,867.8 2091.5,868.9 2100.8,883.2 2110.2,892.7 2119.5,894.1 2128.8,904.8 2138.2,889.3 2147.5,886.6 2156.8,886.3 2166.2,885.9 2175.5,876.4 2184.8,873.2 2194.2,876.7 2203.5,880.2 2212.8,891.0 2222.2,897.8 2231.5,884.9 2240.8,894.8 2250.2,902.5" fill="none" stroke="#1f77b4" stroke-width="12" stroke-linejoin="round" stroke-linecap="square" clip-path="url(#ci)"/>
<polyline points="812.8,-299.7 822.2,694.3 831.5,910.0 840.8,861.2 850.2,888.7 859.5,870.9 868.8,857.1 878.2,894.8 887.5,846.4 896.8,806.3 906.2,864.0 915.5,900.8 924.8,953.2 934.2,948.5 943.5,901.3 952.8,907.6 962.2,949.8 971.5,988.8 980.8,945.8 990.2,946.4 999.5,930.7 1008.8,833.0 1018.2,837.0 1027.5,870.9 1036.8,898.2 1046.2,925.3 1055.5,965.6 1064.8,958.0 1074.2,938.9 1083.5,936.2 1092.8,954.7 1102.2,952.5 1111.5,936.2 1120.8,912.9 1130.2,919.2 1139.5,930.1 1148.8,919.1 1158.2,917.7 1167.5,930.7 1176.8,938.9 1186.2,925.3 1195.5,921.1 1204.8,953.2 1214.2,953.1 1223.5,960.7 1232.8,943.7 1242.2,942.2 1251.5,959.4 1260.8,959.4 1270.2,964.1 1279.5,965.5 1288.8,962.6 1298.2,974.4 1307.5,971.6 1316.8,973.7 1326.2,973.0 1335.5,982.2 1344.8,981.4 1354.2,972.1 1363.5,970.4 1372.8,971.5 1382.2,984.8 1391.5,990.3 1400.8,993.4 1410.2,996.4 1419.5,1001.2 1428.8,1003.3 1438.2,995.0 1447.5,980.8 1456.8,968.5 1466.2,954.2 1475.5,952.8 1484.8,952.1 1494.2,937.2 1503.5,932.4 1512.8,912.6 1522.2,899.7 1531.5,888.0 1540.8,895.6 1550.2,915.5 1559.5,895.0 1568.8,891.1 1578.2,893.3 1587.5,885.0 1596.8,890.8 1606.2,897.7 1615.5,911.3 1624.8,918.7 1634.2,920.5 1643.5,910.3 1652.8,918.7 1662.2,908.7 1671.5,906.9 1680.8,929.0 1690.2,951.5 1699.5,951.5 1708.8,957.4 1718.2,964.2 1727.5,973.1 1736.8,973.3 1746.2,974.4 1755.5,981.8 1764.8,973.7 1774.2,972.4 1783.5,963.5 1792.8,955.3 1802.2,949.9 1811.5,945.1 1820.8,943.1 1830.2,940.9 1839.5,945.1 1848.8,947.9 1858.2,951.8 1867.5,941.2 1876.8,943.1 1886.2,947.2 1895.5,952.8 1904.8,949.1 1914.2,950.6 1923.5,952.6 1932.8,954.6 1942.2,956.0 1951.5,975.8 1960.8,972.2 1970.2,981.9 1979.5,990.2 1988.8,986.0 1998.2,983.1 2007.5,991.4 2016.8,996.7 2026.2,992.8 2035.5,986.2 2044.8,995.8 2054.2,995.2 2063.5,999.6 2072.8,1002.7 2082.2,994.8 2091.5,989.4 2100.8,984.2 2110.2,989.5 2119.5,988.3 2128.8,994.1 2138.2,996.2 2147.5,996.2 2156.8,993.3 2166.2,998.6 2175.5,996.9 2184.8,992.2 2194.2,984.1 2203.5,986.4 2212.8,985.7 2222.2,993.7 2231.5,987.9 2240.8,992.9 2250.2,990.9" fill="none" stroke="#ff7f0e" stroke-width="12" stroke-linejoin="round" stroke-linecap="square" clip-path="url(#ci)"/>
<polyline points="812.8,666.7 822.2,715.3 831.5,735.8 840.8,626.5 850.2,607.2 859.5,670.7 868.8,592.3 878.2,671.5 887.5,809.3 896.8,780.9 906.2,756.0 915.5,761.7 924.8,750.3 934.2,791.8 943.5,833.8 952.8,819.4 962.2,804.1 971.5,815.5 980.8,841.3 990.2,862.7 999.5,907.6 1008.8,911.0 1018.2,919.3 1027.5,911.7 1036.8,904.7 1046.2,899.5 1055.5,868.0 1064.8,876.3 1074.2,927.5 1083.5,915.0 1092.8,933.5 1102.2,968.4 1111.5,947.1 1120.8,944.9 1130.2,953.4 1139.5,937.4 1148.8,944.5 1158.2,935.4 1167.5,946.6 1176.8,930.6 1186.2,945.8 1195.5,975.7 1204.8,992.2 1214.2,974.6 1223.5,958.7 1232.8,957.2 1242.2,973.0 1251.5,989.5 1260.8,986.6 1270.2,957.3 1279.5,928.0 1288.8,927.8 1298.2,917.1 1307.5,912.4 1316.8,900.8 1326.2,902.6 1335.5,898.6 1344.8,924.0 1354.2,930.4 1363.5,919.3 1372.8,926.9 1382.2,955.6 1391.5,950.0 1400.8,969.2 1410.2,967.7 1419.5,972.7 1428.8,965.2 1438.2,977.3 1447.5,1004.7 1456.8,993.7 1466.2,990.3 1475.5,989.6 1484.8,1011.0 1494.2,1031.8 1503.5,1031.1 1512.8,1020.8 1522.2,1025.0 1531.5,1024.3 1540.8,1030.5 1550.2,1033.9 1559.5,1034.5 1568.8,1031.8 1578.2,1033.2 1587.5,1032.5 1596.8,1029.1 1606.2,1030.5 1615.5,1027.0 1624.8,1029.6 1634.2,1029.7 1643.5,1027.8 1652.8,1028.9 1662.2,1030.9 1671.5,1032.7 1680.8,1030.9 1690.2,1030.9 1699.5,1033.6 1708.8,1036.5 1718.2,1032.1 1727.5,1036.5 1736.8,1024.6 1746.2,1026.2 1755.5,1030.8 1764.8,1026.4 1774.2,1026.2 1783.5,1026.8 1792.8,1036.4 1802.2,1037.7 1811.5,1039.1 1820.8,1043.2 1830.2,1044.9 1839.5,1043.2 1848.8,1044.7 1858.2,1039.1 1867.5,1038.4 1876.8,1037.1 1886.2,1037.7 1895.5,1037.7 1904.8,1038.4 1914.2,1037.1 1923.5,1036.4 1932.8,1035.7 1942.2,1033.6 1951.5,1033.4 1960.8,1031.9 1970.2,1031.9 1979.5,1031.9 1988.8,1033.2 1998.2,1033.9 2007.5,1024.8 2016.8,1024.1 2026.2,1021.9 2035.5,1023.4 2044.8,1025.5 2054.2,1029.5 2063.5,1031.9 2072.8,1031.9 2082.2,1031.3 2091.5,1030.6 2100.8,1024.1 2110.2,1022.3 2119.5,1025.9 2128.8,1022.3 2138.2,1022.3 2147.5,1025.9 2156.8,1024.8 2166.2,1019.6 2175.5,1019.3 2184.8,1013.8 2194.2,1011.1 2203.5,1015.8 2212.8,1010.2 2222.2,1016.0 2231.5,1012.1 2240.8,1017.9 2250.2,1017.9" fill="none" stroke="#2ca02c" stroke-width="12" stroke-linejoin="round" stroke-linecap="square" clip-path="url(#ci)"/>
<g stroke="#000" stroke-width="6.8">
<line x1="803.5" y1="1122.3" x2="803.5" y2="1148.5"/>
<line x1="1270.2" y1="1122.3" x2="1270.2" y2="1148.5"/>
<line x1="1736.8" y1="1122.3" x2="1736.8" y2="1148.5"/>
<line x1="2203.5" y1="1122.3" x2="2203.5" y2="1148.5"/>
<line x1="756.4" y1="1078.4" x2="730.1999999999999" y2="1078.4"/>
<line x1="756.4" y1="859.7" x2="730.1999999999999" y2="859.7"/>
<line x1="756.4" y1="640.9" x2="730.1999999999999" y2="640.9"/>
<line x1="756.4" y1="422.2" x2="730.1999999999999" y2="422.2"/>
<line x1="756.4" y1="203.4" x2="730.1999999999999" y2="203.4"/>
</g>
<rect x="756.4" y="203.4" width="1494.1" height="918.9" fill="none" stroke="#000" stroke-width="6.9"/>
<rect x="1078.6" y="320.3" width="327.8" height="167.7" rx="44" ry="44" fill="#fff" stroke="#000" stroke-width="0.9"/>
<rect x="1804.1" y="240.3" width="409.4" height="430.6" rx="13" ry="13" fill="#fff" fill-opacity="0.8" stroke="#cccccc" stroke-opacity="0.8" stroke-width="8.6"/>
<line x1="1827.1" y1="396.6" x2="1986" y2="396.6" stroke="#1f77b4" stroke-width="12"/>
<line x1="1827.1" y1="498.9" x2="1986" y2="498.9" stroke="#ff7f0e" stroke-width="12"/>
<line x1="1827.1" y1="602" x2="1986" y2="602" stroke="#2ca02c" stroke-width="12"/>
<text x="345.5" y="1608.5" font-size="74" text-anchor="middle">0</text>
<text x="719.1" y="1608.5" font-size="74" text-anchor="middle">1000</text>
<text x="1092.7" y="1608.5" font-size="74" text-anchor="middle">2000</text>
<text x="1466.2" y="1608.5" font-size="74" text-anchor="middle">3000</text>
<text x="1839.8" y="1608.5" font-size="74" text-anchor="middle">4000</text>
<text x="2213.4" y="1608.5" font-size="74" text-anchor="middle">5000</text>
<text x="203.5" y="1468.3" font-size="74" text-anchor="end">0</text>
<text x="203.5" y="1176.5" font-size="74" text-anchor="end">1</text>
<text x="203.5" y="884.7" font-size="74" text-anchor="end">2</text>
<text x="203.5" y="592.9" font-size="74" text-anchor="end">3</text>
<text x="203.5" y="301.1" font-size="74" text-anchor="end">4</text>
<text x="803.5" y="1225.2" font-size="74" text-anchor="middle">0</text>
<text x="1270.2" y="1225.2" font-size="74" text-anchor="middle">500</text>
<text x="1736.8" y="1225.2" font-size="74" text-anchor="middle">1000</text>
<text x="2203.5" y="1225.2" font-size="74" text-anchor="middle">1500</text>
<text x="704.5" y="1103.9" font-size="74" text-anchor="end">0.0</text>
<text x="704.5" y="885.2" font-size="74" text-anchor="end">0.5</text>
<text x="704.5" y="666.4" font-size="74" text-anchor="end">1.0</text>
<text x="704.5" y="447.7" font-size="74" text-anchor="end">1.5</text>
<text x="704.5" y="228.9" font-size="74" text-anchor="end">2.0</text>
<text transform="translate(258.12,102.18) scale(0.9350,0.9525)" font-size="100" stroke="#fff" stroke-width="2.2" vector-effect="non-scaling-stroke">×</text>
<text transform="translate(312.23,88.62) scale(0.7517,0.7412)" font-size="100">10</text>
<text transform="translate(387.28,68.06) scale(0.7447,0.5600)" font-size="100">−</text>
<text transform="translate(432.90,61.27) scale(0.5500,0.5303)" font-size="100">4</text>
<text transform="translate(758.32,195.38) scale(0.9350,0.9525)" font-size="100" stroke="#fff" stroke-width="2.2" vector-effect="non-scaling-stroke">×</text>
<text transform="translate(812.43,181.82) scale(0.7517,0.7412)" font-size="100">10</text>
<text transform="translate(887.48,161.26) scale(0.7447,0.5600)" font-size="100">−</text>
<text transform="translate(933.10,154.47) scale(0.5500,0.5303)" font-size="100">4</text>
<text transform="translate(929.31,1692.30) scale(0.7934,0.7239)" font-size="100">number of batches,</text>
<text transform="translate(1558.67,1692.69) scale(0.9571,0.7125)" font-size="100" font-style="italic" stroke="#fff" stroke-width="1.2" vector-effect="non-scaling-stroke">n</text>
<text transform="translate(1604.76,1702.57) scale(0.4860,0.5343)" font-size="100" font-style="italic">b</text>
<text transform="translate(1130.71,421.70) scale(0.7589,0.7500)" font-size="100">ZOOM</text>
<text transform="translate(1841.96,321.70) scale(0.7777,0.7449)" font-size="100">Samples</text>
<text transform="translate(2127.30,322.08) scale(0.9238,0.7229)" font-size="100" font-style="italic" stroke="#fff" stroke-width="1.2" vector-effect="non-scaling-stroke">n</text>
<text x="2036.8" y="423.4" font-size="74">500</text>
<text x="2036.8" y="525" font-size="74">1000</text>
<text x="2036.8" y="626.7" font-size="74">1500</text>
<g transform="translate(96,1131.6) rotate(-90)">
<text transform="translate(-0.70,0.10) scale(0.6972,0.8091)" font-size="100">A</text>
<text transform="translate(51.80,11.66) scale(0.5660,0.5371)" font-size="100" font-style="italic" stroke="#fff" stroke-width="0.6" vector-effect="non-scaling-stroke">d</text>
<text transform="translate(88.02,1.29) scale(0.7192,0.8289)" font-size="100" stroke="#fff" stroke-width="2.2" vector-effect="non-scaling-stroke">(</text>
<text transform="translate(117.00,-0.47) scale(0.8274,0.7667)" font-size="100" font-style="italic">F</text>
<text transform="translate(169.47,-32.21) scale(0.7571,0.5125)" font-size="100" font-style="italic" stroke="#fff" stroke-width="0.6" vector-effect="non-scaling-stroke">n</text>
<text transform="translate(206.03,-26.28) scale(0.4419,0.3757)" font-size="100" font-style="italic" stroke="#fff" stroke-width="0.6" vector-effect="non-scaling-stroke">b</text>
<text transform="translate(162.76,21.10) scale(0.5366,0.5530)" font-size="100" stroke="#fff" stroke-width="0.6" vector-effect="non-scaling-stroke">A</text>
<text transform="translate(206.95,28.92) scale(0.4511,0.3800)" font-size="100" font-style="italic" stroke="#fff" stroke-width="0.6" vector-effect="non-scaling-stroke">d</text>
<text transform="translate(241.71,0.28) scale(0.6467,0.8885)" font-size="100" stroke="#fff" stroke-width="1.0" vector-effect="non-scaling-stroke">,</text>
<text transform="translate(274.90,-0.47) scale(0.8323,0.7667)" font-size="100" font-style="italic">F</text>
<text transform="translate(328.24,-26.43) scale(0.5775,0.5348)" font-size="100" stroke="#fff" stroke-width="0.6" vector-effect="non-scaling-stroke">5</text>
<text transform="translate(359.91,-25.40) scale(0.5953,0.5464)" font-size="100" font-style="italic" stroke="#fff" stroke-width="0.6" vector-effect="non-scaling-stroke">k</text>
<text transform="translate(320.96,20.40) scale(0.5380,0.5561)" font-size="100" stroke="#fff" stroke-width="0.6" vector-effect="non-scaling-stroke">A</text>
<text transform="translate(365.14,28.22) scale(0.4532,0.3829)" font-size="100" font-style="italic" stroke="#fff" stroke-width="0.6" vector-effect="non-scaling-stroke">d</text>
<text transform="translate(397.78,1.27) scale(0.7077,0.8300)" font-size="100" stroke="#fff" stroke-width="2.2" vector-effect="non-scaling-stroke">)</text>
<text transform="translate(450.16,-0.45) scale(0.7676,0.7485)" font-size="100">in</text>
<text transform="translate(535.32,-0.47) scale(0.7610,0.7667)" font-size="100">Nm</text>
</g>
</svg>
</body></html>
